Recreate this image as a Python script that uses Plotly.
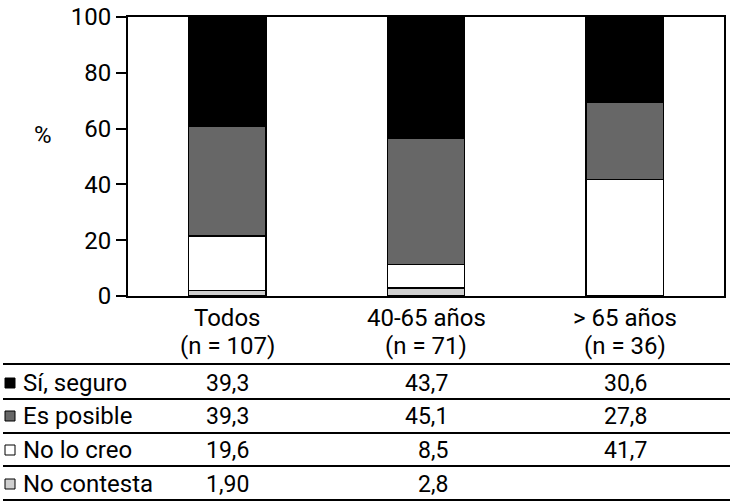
import plotly.graph_objects as go

cat_names = ["Todos", "40-65 años", "> 65 años"]
cat_n = ["(n = 107)", "(n = 71)", "(n = 36)"]
series_names = ["No contesta", "No lo creo", "Es posible", "Sí, seguro"]
no_contesta = [1.9, 2.8, None]
no_lo_creo = [19.6, 8.5, 41.7]
es_posible = [39.3, 45.1, 27.8]
si_seguro = [39.3, 43.7, 30.6]
colors = ["#cfcfcf", "#ffffff", "#676767", "#000000"]

# table rows (top to bottom) as printed
table_rows = ["Sí, seguro", "Es posible", "No lo creo", "No contesta"]
table_text = [
    ["39,3", "43,7", "30,6"],
    ["39,3", "45,1", "27,8"],
    ["19,6", "8,5", "41,7"],
    ["1,90", "2,8", ""],
]
table_colors = ["#000000", "#676767", "#ffffff", "#cfcfcf"]
y_ticks = [0, 20, 40, 60, 80, 100]

FONT = "Roboto, Liberation Sans, sans-serif"

fig = go.Figure()
for name, vals, col in zip(series_names, [no_contesta, no_lo_creo, es_posible, si_seguro], colors):
    fig.add_trace(go.Bar(
        x=list(range(3)), y=vals, name=name,
        marker=dict(color=col, line=dict(color="#000000", width=1.5)),
        showlegend=False,
    ))

W, H = 730, 502
L, R, T, B = 128, 6, 17, 206
pw, ph = W - L - R, H - T - B

def px(xp):
    return (xp - L) / pw

def py(yp):
    return (H - B - yp) / ph

shapes = []
annotations = []

def txt(x, y, text, size, xref="paper", xanchor="center", xshift=0):
    annotations.append(dict(x=x, y=y, xref=xref, yref="paper", text=text,
                            showarrow=False, xanchor=xanchor, yanchor="middle",
                            xshift=xshift,
                            font=dict(size=size, family=FONT, color="#000")))

# "%" label
txt(px(43), py(135), "%", 24)

# category labels
for i in range(3):
    txt(i, py(318), cat_names[i], 24, xref="x")
    txt(i, py(346), cat_n[i], 24, xref="x")

# table lines
line_y = [364, 399, 433, 466, 500]
for ly in line_y:
    shapes.append(dict(type="line", xref="paper", yref="paper", x0=px(3), x1=px(730),
                       y0=py(ly), y1=py(ly), line=dict(color="#000", width=2)))

row_y = [383, 416, 450, 484]
for name, texts, col, ry in zip(table_rows, table_text, table_colors, row_y):
    shapes.append(dict(type="rect", xref="paper", yref="paper", x0=px(5), x1=px(15),
                       y0=py(ry + 5), y1=py(ry - 5), fillcolor=col,
                       line=dict(color="#000", width=1)))
    txt(px(21), py(ry), name, 24, xanchor="left")
    for i, t in enumerate(texts):
        if t:
            txt(i, py(ry), t, 23, xref="x", xanchor="right", xshift=24)

fig.update_layout(
    barmode="stack",
    bargap=0.61,
    width=W, height=H,
    margin=dict(l=L, r=R, t=T, b=B, autoexpand=False),
    plot_bgcolor="#ffffff", paper_bgcolor="#ffffff",
    font=dict(family=FONT, color="#000"),
    shapes=shapes, annotations=annotations,
    xaxis=dict(range=[-0.5, 2.5], showticklabels=False, ticks="", showgrid=False,
               showline=True, mirror=True, linecolor="#000", linewidth=2, zeroline=False),
    yaxis=dict(range=[0, 100], tickvals=y_ticks, ticks="outside", ticklen=10, tickwidth=2,
               tickcolor="#000", showgrid=False, showline=True, mirror=True,
               linecolor="#000", linewidth=2, zeroline=False,
               tickfont=dict(size=24, family=FONT, color="#000")),
)

fig.write_html("out.html", config={"displayModeBar": False},
               post_script="document.body.style.margin='0';document.body.style.overflow='hidden';")
